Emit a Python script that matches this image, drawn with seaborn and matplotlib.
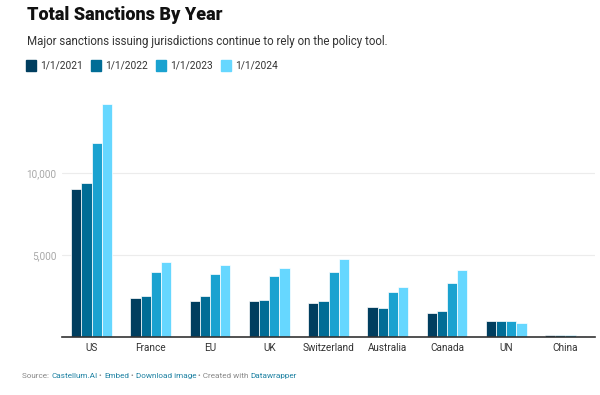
import pandas as pd
import matplotlib.pyplot as plt
import seaborn as sns

# Datos
paises = ["US", "France", "EU", "UK", "Switzerland", "Australia", "Canada", "UN", "China"]
anos = ["1/1/2021", "1/1/2022", "1/1/2023", "1/1/2024"]
v2021 = [9050, 2380, 2220, 2180, 2050, 1810, 1440, 990, 120]
v2022 = [9400, 2500, 2500, 2260, 2220, 1750, 1590, 990, 110]
v2023 = [11820, 3950, 3860, 3700, 3950, 2730, 3290, 960, 100]
v2024 = [14200, 4600, 4390, 4210, 4760, 3030, 4070, 860, 90]
colores = ["#003e5f", "#016d96", "#1aa2d0", "#66d7ff"]

df = pd.DataFrame({"pais": paises * 4,
                   "ano": [a for a in anos for _ in paises],
                   "valor": v2021 + v2022 + v2023 + v2024})

sns.set_style("white")
plt.rcParams['font.family'] = ['Roboto', 'DejaVu Sans']

fig = plt.figure(figsize=(6, 3.95), dpi=100)
ax = fig.add_axes([62/600, 1 - 337/395, 533/600, 246/395])

sns.barplot(data=df, x="pais", y="valor", hue="ano", palette=colores, saturation=1,
            width=0.69, edgecolor="white", linewidth=0.5, ax=ax, legend=False)

ax.set_xlim(-0.5, 8.5)
ax.set_ylim(0, 15000)
ax.set_yticks([5000, 10000])
ax.set_yticklabels(["5,000", "10,000"], color="#a8a8a8", fontsize=7.2)
ax.yaxis.grid(True, color="#ececec", linewidth=0.8)
ax.set_axisbelow(True)
ax.tick_params(axis="y", length=0, pad=4)
ax.tick_params(axis="x", length=0, pad=4, labelsize=7.2, labelcolor="#333333")
ax.set_xlabel("")
ax.set_ylabel("")
for s in ["top", "right", "left"]:
    ax.spines[s].set_visible(False)
ax.spines["bottom"].set_color("#333333")
ax.spines["bottom"].set_linewidth(1.2)

# Titulo y subtitulo
fig.text(27/600, 1 - 15/395, "Total Sanctions By Year", fontsize=13, fontweight="heavy",
         color="#111111", va="center")
fig.text(27/600, 1 - 42/395, "Major sanctions issuing jurisdictions continue to rely on the policy tool.",
         fontsize=8.3, color="#333333", va="center")

# Leyenda manual
x0 = 26
for i, (a, c) in enumerate(zip(anos, colores)):
    xx = x0 + i * 65
    fig.patches.append(plt.Rectangle((xx/600, 1 - 71/395), 10/600, 11/395,
                                     transform=fig.transFigure, color=c))
    fig.text((xx + 14)/600, 1 - 65.5/395, a, fontsize=7.3, color="#333333", va="center")

# Pie de pagina
partes = [("Source: ", "#888888"), ("Castellum.AI", "#1d81a2"), (" • ", "#888888"),
          ("Embed", "#1d81a2"), (" • ", "#888888"), ("Download image", "#1d81a2"),
          (" • Created with ", "#888888"), ("Datawrapper", "#1d81a2")]
fig.canvas.draw()
r = fig.canvas.get_renderer()
xp = 22
for t, c in partes:
    tx = fig.text(xp/600, 1 - 376/395, t, fontsize=5.9, color=c, va="center")
    xp += tx.get_window_extent(renderer=r).width

fig.savefig("out.png", dpi=100)
